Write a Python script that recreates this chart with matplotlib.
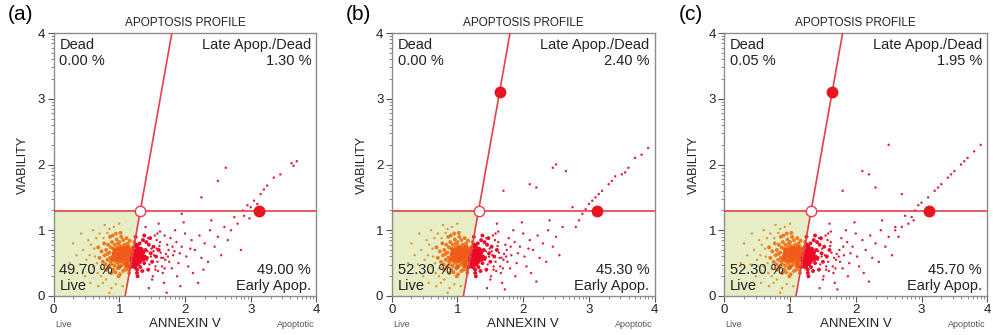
import numpy as np
from matplotlib import pyplot as plt

# gate (quadrant) settings, same for all three panels
gate_y = 1.3
gate_bottom_x = 1.09
gate_top_x = 1.80

# dense central cloud (similar in all panels)
core_x = [1.02, 1.08, 0.95, 1.12, 0.98, 1.05, 0.90, 1.15, 1.00, 0.88,
          1.10, 0.93, 1.18, 0.85, 1.06, 0.97, 1.13, 0.82, 1.03, 0.91,
          1.17, 0.99, 0.87, 1.09, 0.94, 1.04, 0.80, 1.14, 0.96, 1.01,
          0.78, 1.11, 0.89, 1.07, 0.92, 1.16, 0.84, 1.00, 0.75, 1.05,
          0.95, 1.12, 0.86, 0.98, 1.19, 0.83, 1.03, 0.90, 1.08, 0.73,
          0.97, 1.15, 0.88, 1.06, 0.80, 1.10, 0.93, 1.01, 0.77, 1.14,
          0.70, 0.99, 1.04, 0.91, 1.17, 0.86, 0.95, 1.09, 0.82, 1.02,
          0.68, 1.12, 0.94, 1.07, 0.79, 0.98, 1.16, 0.87, 1.05, 0.92,
          1.22, 1.25, 1.28, 1.24, 1.30, 1.21, 1.33, 1.27, 1.35, 1.23,
          1.38, 1.26, 1.31, 1.22, 1.40, 1.29, 1.36, 1.24, 1.42, 1.27,
          1.45, 1.32, 1.25, 1.48, 1.34, 1.21, 1.50, 1.38, 1.28, 1.44,
          1.52, 1.30, 1.41, 1.56, 1.35, 1.23, 1.47, 1.60, 1.39, 1.26]
core_y = [0.62, 0.55, 0.70, 0.68, 0.50, 0.75, 0.60, 0.58, 0.82, 0.48,
          0.45, 0.78, 0.72, 0.66, 0.38, 0.58, 0.80, 0.55, 0.90, 0.40,
          0.50, 0.66, 0.74, 0.63, 0.52, 0.47, 0.70, 0.40, 0.86, 0.33,
          0.62, 0.88, 0.82, 0.70, 0.66, 0.64, 0.44, 0.56, 0.52, 0.58,
          0.95, 0.52, 0.58, 0.42, 0.60, 0.78, 0.68, 0.92, 0.78, 0.68,
          0.74, 0.35, 0.35, 0.85, 0.40, 0.72, 0.46, 0.76, 0.80, 0.76,
          0.58, 0.30, 0.52, 0.72, 0.44, 0.90, 0.62, 0.40, 0.64, 0.96,
          0.74, 0.60, 0.36, 0.50, 0.48, 0.80, 0.84, 0.52, 0.66, 0.56,
          0.60, 0.52, 0.68, 0.75, 0.58, 0.45, 0.72, 0.40, 0.62, 0.82,
          0.50, 0.64, 0.80, 0.55, 0.70, 0.48, 0.85, 0.66, 0.58, 0.35,
          0.78, 0.44, 0.90, 0.65, 0.55, 0.70, 0.52, 0.92, 0.30, 0.40,
          0.75, 0.65, 0.82, 0.60, 0.38, 0.50, 0.88, 0.70, 0.60, 0.78]

# extra events in the densest part of the cloud
dense_x = [1.00, 1.04, 1.10, 1.14, 0.96, 1.07, 1.12, 1.18, 0.99, 1.02,
           1.06, 1.11, 1.15, 0.93, 0.97, 1.01, 1.05, 1.09, 1.13, 1.17,
           0.90, 0.94, 0.98, 1.03, 1.08, 1.12, 1.16, 0.92, 1.00, 1.06,
           1.20, 1.23, 1.21, 1.24, 1.22, 1.26, 1.20, 1.25, 1.28, 1.21,
           1.23, 1.27, 1.30, 1.22, 1.25, 1.29, 1.32, 1.24, 1.26, 1.31,
           1.19, 1.22, 1.20, 1.24, 1.27, 1.33, 1.36, 1.29, 1.34, 1.37]
dense_y = [0.58, 0.64, 0.66, 0.55, 0.64, 0.60, 0.74, 0.66, 0.70, 0.54,
           0.72, 0.50, 0.70, 0.70, 0.55, 0.68, 0.62, 0.58, 0.64, 0.56,
           0.56, 0.60, 0.62, 0.72, 0.68, 0.46, 0.60, 0.64, 0.44, 0.56,
           0.58, 0.62, 0.66, 0.56, 0.50, 0.70, 0.62, 0.60, 0.54, 0.52,
           0.72, 0.62, 0.68, 0.64, 0.48, 0.60, 0.64, 0.54, 0.58, 0.52,
           0.68, 0.74, 0.54, 0.44, 0.76, 0.58, 0.66, 0.72, 0.70, 0.56]

# loose points around the live population
halo_x = [0.60, 0.65, 0.55, 0.72, 0.62, 0.50, 0.70, 0.58, 0.75, 0.85,
          0.45, 0.66, 0.80, 0.92, 0.53, 0.40, 0.68, 0.95, 0.35, 0.88,
          0.60, 0.48, 0.78, 1.00, 0.30, 0.42, 0.56, 0.85, 0.25, 1.05,
          0.63, 0.72, 0.76, 0.57, 0.82, 0.67,
          1.42, 1.46, 1.53, 1.58, 1.63, 1.49, 1.55, 1.61, 1.67, 1.44,
          1.51, 1.57, 1.65, 1.71, 1.48, 1.54, 1.59, 1.76, 1.81, 1.43,
          1.62, 1.69, 1.74, 1.87, 1.92]
halo_y = [0.45, 0.88, 0.62, 0.30, 0.72, 0.55, 0.95, 0.35, 0.20, 1.02,
          0.70, 0.50, 0.25, 1.05, 0.85, 0.48, 0.15, 0.18, 0.62, 0.12,
          1.00, 0.30, 1.08, 1.10, 0.80, 0.95, 0.20, 0.05, 0.50, 0.15,
          0.60, 0.42, 0.88, 0.78, 0.96, 0.35,
          0.55, 0.48, 0.62, 0.52, 0.66, 0.72, 0.40, 0.76, 0.58, 0.88,
          0.30, 0.85, 0.45, 0.64, 0.60, 0.92, 0.38, 0.52, 0.75, 0.68,
          0.98, 0.42, 0.60, 0.82, 0.65]

# early / late apoptotic spread, per panel
spread_a_x = [1.55, 1.62, 1.70, 1.58, 1.75, 1.66, 1.82, 1.78, 1.90, 1.85,
              1.95, 2.02, 1.68, 2.10, 1.50, 2.05, 2.15, 1.88, 2.22, 2.25,
              1.60, 2.30, 2.38, 2.12, 2.45, 1.45, 2.50, 2.35, 1.98, 2.60,
              1.72, 2.20, 2.55, 1.80, 2.00, 1.93, 2.40, 2.65, 1.40, 2.28,
              2.70, 2.75, 2.85, 1.52, 1.64, 1.73, 1.57, 1.84, 1.69, 2.08,
              2.80, 2.90, 2.95, 3.05, 3.00, 3.15, 3.20, 3.25, 3.35, 3.45,
              3.62, 3.65, 3.70, 2.62, 2.50, 2.25, 1.95, 2.88, 3.10, 2.98]
spread_a_y = [0.45, 0.82, 0.55, 0.95, 0.70, 0.35, 0.62, 0.88, 0.50, 1.00,
              0.75, 0.60, 0.20, 0.85, 0.25, 0.45, 0.70, 0.30, 0.92, 0.58,
              1.10, 0.80, 1.00, 0.35, 0.75, 0.12, 0.90, 0.52, 1.12, 1.05,
              0.05, 0.20, 0.62, 0.42, 0.95, 0.15, 1.15, 0.85, 1.05, 0.40,
              1.00, 1.20, 0.70, 0.68, 0.58, 0.78, 0.72, 0.68, 0.92, 0.72,
              1.10, 1.22, 1.38, 1.45, 1.35, 1.55, 1.62, 1.68, 1.80, 1.85,
              2.02, 1.98, 2.05, 1.95, 1.75, 1.50, 1.25, 1.30, 1.40, 1.18]

spread_b_x = [1.55, 1.62, 1.70, 1.58, 1.75, 1.66, 1.82, 1.78, 1.90, 1.85,
              1.95, 2.02, 1.68, 2.10, 1.50, 2.05, 2.15, 1.88, 2.22, 2.25,
              1.60, 2.30, 2.38, 2.12, 2.45, 1.45, 2.50, 2.35, 1.98, 2.60,
              1.72, 2.20, 2.55, 1.80, 2.00, 2.40, 1.52, 1.64, 1.73, 2.08,
              1.70, 2.10, 2.20, 2.50, 2.65, 2.45, 2.75, 2.90, 2.95, 3.00,
              3.05, 3.10, 3.20, 3.30, 3.40, 3.50, 3.60, 3.70, 3.80, 3.90,
              2.85, 3.15, 3.35, 3.55, 2.80]
spread_b_y = [0.45, 0.82, 0.55, 0.95, 0.70, 0.35, 0.62, 0.88, 0.50, 1.00,
              0.75, 0.60, 0.20, 0.85, 0.25, 0.45, 0.70, 0.30, 0.92, 0.58,
              1.10, 0.80, 1.00, 0.35, 0.75, 0.12, 0.90, 0.52, 1.12, 1.05,
              0.10, 0.22, 0.62, 0.42, 0.95, 1.15, 0.68, 0.58, 0.78, 0.72,
              1.60, 1.70, 1.65, 2.00, 1.90, 1.95, 1.35, 1.25, 1.32, 1.40,
              1.45, 1.50, 1.60, 1.70, 1.82, 1.85, 1.95, 2.10, 2.15, 2.25,
              1.15, 1.55, 1.75, 1.88, 1.05]

spread_c_x = [1.55, 1.62, 1.70, 1.58, 1.75, 1.66, 1.82, 1.78, 1.90, 1.85,
              1.95, 2.02, 1.68, 2.10, 1.50, 2.05, 2.15, 1.88, 2.22, 2.25,
              1.60, 2.30, 2.38, 2.12, 2.45, 1.45, 2.50, 2.35, 1.98, 2.60,
              1.72, 2.20, 2.55, 1.80, 2.00, 2.40, 2.65, 2.70, 2.80, 2.85,
              2.50, 2.10, 2.20, 1.80, 2.30, 2.70, 2.90, 2.95, 3.00, 3.10,
              3.20, 3.30, 3.40, 3.50, 3.60, 3.70, 3.80, 3.90, 2.75, 3.25,
              3.45, 3.65, 2.60, 2.88]
spread_c_y = [0.45, 0.82, 0.55, 0.95, 0.70, 0.35, 0.62, 0.88, 0.50, 1.00,
              0.75, 0.60, 0.20, 0.85, 0.25, 0.45, 0.70, 0.30, 0.92, 0.58,
              1.10, 0.80, 1.00, 0.35, 0.75, 0.12, 0.90, 0.52, 1.12, 1.05,
              0.10, 0.22, 0.62, 0.42, 0.95, 1.15, 0.90, 1.05, 1.10, 1.20,
              2.30, 1.90, 1.85, 1.60, 1.65, 1.55, 1.30, 1.38, 1.42, 1.50,
              1.60, 1.70, 1.80, 1.90, 2.00, 2.10, 2.20, 2.30, 1.22, 1.65,
              1.85, 2.05, 1.00, 1.15]

panel_labels = ['(a)', '(b)', '(c)']
dead_pct = ['0.00 %', '0.00 %', '0.05 %']
late_pct = ['1.30 %', '2.40 %', '1.95 %']
live_pct = ['49.70 %', '52.30 %', '52.30 %']
early_pct = ['49.00 %', '45.30 %', '45.70 %']
spreads = [(spread_a_x, spread_a_y), (spread_b_x, spread_b_y), (spread_c_x, spread_c_y)]
upper_handle = [False, True, True]
lefts = [53.5, 391.7, 724.3]

line_col = '#e5404c'
plt.rcParams['font.family'] = ['Liberation Sans', 'DejaVu Sans']

fig = plt.figure(figsize=(9.93, 3.35), dpi=100)


def gate_x(y):
    return gate_bottom_x + (gate_top_x - gate_bottom_x) * np.asarray(y) / 4.0


def colours(x, y, live_col, apo_col):
    x = np.asarray(x)
    y = np.asarray(y)
    live = (x < gate_x(y)) & (y < gate_y)
    return np.where(live, live_col, apo_col)


minor = [d + np.log10(k) for d in range(4) for k in range(2, 10)]

for i in range(3):
    ax = fig.add_axes([lefts[i] / 993, 39 / 335, 263 / 993, 263 / 335])
    ax.set_xlim(0, 4)
    ax.set_ylim(0, 4)

    # live quadrant shading
    gx = gate_x(gate_y)
    ax.fill([0, gate_bottom_x, gx, 0], [0, 0, gate_y, gate_y], color='#e7eec6', zorder=0)

    # events
    sx, sy = spreads[i]
    ax.scatter(halo_x, halo_y, s=3, c=colours(halo_x, halo_y, '#dc9a30', '#e0203a'), linewidths=0, zorder=2)
    ax.scatter(sx, sy, s=3, c=colours(sx, sy, '#dc9a30', '#d8203c'), linewidths=0, zorder=2)
    ax.scatter(core_x, core_y, s=8, c=colours(core_x, core_y, '#f07a22', '#e8102a'), linewidths=0, zorder=2)
    ax.scatter(dense_x, dense_y, s=11, c=colours(dense_x, dense_y, '#f05a1a', '#ec0a26'), linewidths=0, zorder=2)

    # gate lines and handles
    ax.plot([0, 4], [gate_y, gate_y], color=line_col, lw=1.2, zorder=3)
    ax.plot([gate_bottom_x, gate_top_x], [0, 4], color=line_col, lw=1.2, zorder=3)
    ax.plot([gx], [gate_y], 'o', ms=7.5, mfc='white', mec=line_col, mew=1, zorder=4)
    ax.plot([3.12], [gate_y], 'o', ms=7.5, color='#e8141e', zorder=4)
    if upper_handle[i]:
        ax.plot([gate_x(3.1)], [3.1], 'o', ms=7.5, color='#e8141e', zorder=4)

    # quadrant texts
    ax.text(0.09, 3.93, 'Dead\n' + dead_pct[i], ha='left', va='top', fontsize=10.5, linespacing=1.2, color='#222222')
    ax.text(3.92, 3.93, 'Late Apop./Dead\n' + late_pct[i], ha='right', va='top', fontsize=10.5,
            linespacing=1.2, color='#222222', multialignment='right')
    ax.text(0.09, 0.09, live_pct[i] + '\nLive', ha='left', va='baseline', fontsize=10.5, linespacing=1.2, color='#222222')
    ax.text(3.92, 0.09, early_pct[i] + '\nEarly Apop.', ha='right', va='baseline', fontsize=10.5,
            linespacing=1.2, color='#222222', multialignment='right')

    # axes styling
    for sp in ax.spines.values():
        sp.set_color('#8c8c8c')
        sp.set_linewidth(1.0)
    ax.set_xticks([0, 1, 2, 3, 4])
    ax.set_yticks([0, 1, 2, 3, 4])
    ax.set_xticks(minor, minor=True)
    ax.set_yticks(minor, minor=True)
    ax.tick_params(which='major', length=4, width=0.8, color='#555555', labelsize=9.5, pad=2, labelcolor='#222222')
    ax.tick_params(which='minor', length=2.2, width=0.6, color='#777777')

    ax.set_title('APOPTOSIS PROFILE', fontsize=8.5, pad=5, color='#222222')
    ax.set_xlabel('ANNEXIN V', fontsize=9.5, labelpad=1, color='#222222')
    ax.set_ylabel('VIABILITY', fontsize=9, labelpad=6, color='#222222')
    ax.text(0.02, -0.44, 'Live', fontsize=6.5, color='#555555', ha='left', va='center')
    ax.text(3.97, -0.44, 'Apoptotic', fontsize=6.5, color='#555555', ha='right', va='center')

    fig.text((lefts[i] - 46) / 993, 1 - 15 / 335, panel_labels[i], fontsize=15, ha='left', va='center')

fig.savefig('out.png', dpi=100)
